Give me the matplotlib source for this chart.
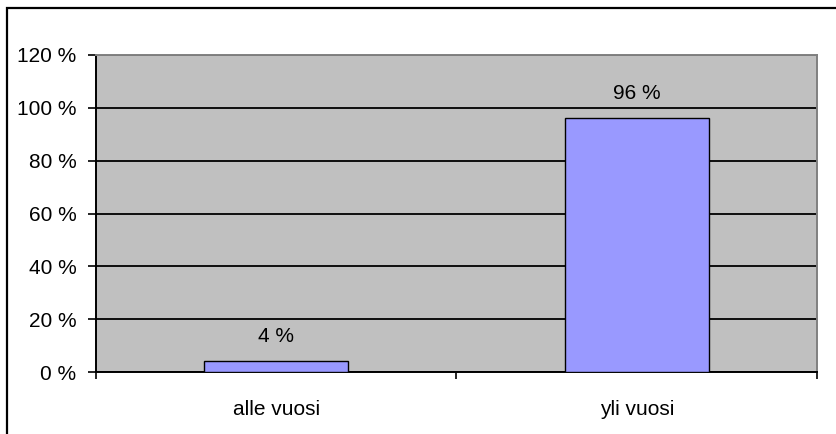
import matplotlib
matplotlib.use("Agg")
import matplotlib.pyplot as plt
from matplotlib.patches import Rectangle

categories = ["alle vuosi", "yli vuosi"]
values = [4, 96]
value_labels = ["4 %", "96 %"]
ytick_vals = [0, 20, 40, 60, 80, 100, 120]
ytick_labels = ["0 %", "20 %", "40 %", "60 %", "80 %", "100 %", "120 %"]

plt.rcParams['font.family'] = ['Liberation Sans', 'DejaVu Sans']

W, H = 837, 434
fig = plt.figure(figsize=(W / 100, H / 100), dpi=100)
fig.patch.set_facecolor("white")

# outer frame (top and left visible, extends beyond image on right/bottom)
fig.add_artist(Rectangle((7 / W, -0.2), 1.5, (H - 8) / H + 0.2, transform=fig.transFigure,
                         fill=False, edgecolor="black", linewidth=1.6))

left, right, top, bottom = 96, 817, 55, 372
ax = fig.add_axes([left / W, (H - bottom) / H, (right - left) / W, (bottom - top) / H])
ax.set_facecolor("#C0C0C0")

x = list(range(len(categories)))
bars = ax.bar(x, values, width=0.4, color="#9999FF", edgecolor="black", linewidth=1.0, zorder=3)

ax.set_xlim(-0.5, len(categories) - 0.5)
ax.set_ylim(0, 120)
ax.set_yticks(ytick_vals)
ax.set_yticklabels(ytick_labels, fontsize=15)
ax.yaxis.grid(True, color="black", linewidth=1.3, zorder=1)
ax.set_axisbelow(True)

ax.set_xticks([i - 0.5 for i in range(len(categories) + 1)])
ax.set_xticklabels([])
ax.set_xticks(x, minor=True)
ax.set_xticklabels(categories, minor=True, fontsize=15)
ax.tick_params(axis="x", which="minor", length=0, pad=20)
ax.tick_params(axis="x", which="major", direction="out", length=5, width=1.2, color="black")
ax.tick_params(axis="y", direction="out", length=6, width=1.2, color="black", pad=8)

for sp in ["left", "bottom"]:
    ax.spines[sp].set_color("black")
    ax.spines[sp].set_linewidth(1.4)
for sp in ["top", "right"]:
    ax.spines[sp].set_color("#808080")
    ax.spines[sp].set_linewidth(1.4)

for xi, v, lab in zip(x, values, value_labels):
    ax.annotate(lab, (xi, v), xytext=(0, 18), textcoords="offset points",
                ha="center", va="center", fontsize=15, color="black")

fig.savefig("out.png", dpi=100)
